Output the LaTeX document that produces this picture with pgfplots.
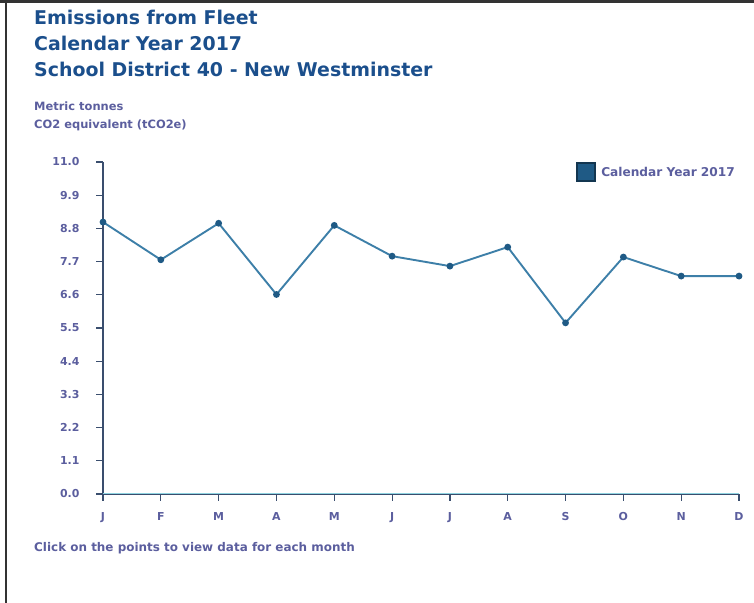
\documentclass[border=0pt]{standalone}
\usepackage{pgfplots}
\pgfplotsset{compat=1.18}
\usepackage{fontspec}
\setmainfont{DejaVu Sans}
\definecolor{titleblue}{HTML}{1B4F8C}
\definecolor{labpurple}{HTML}{5B5E9E}
\definecolor{linecol}{HTML}{3D7FA8}
\definecolor{markcol}{HTML}{1F5A85}
\definecolor{axcol}{HTML}{3A4E6E}
\definecolor{zerocol}{HTML}{8FD3E0}
\begin{document}
\begin{tikzpicture}[x=1bp,y=1bp]
\path[use as bounding box] (0,0) rectangle (754,603);
\draw[line width=3bp, black!80] (0,601.5) -- (754,601.5);
\draw[line width=2.5bp, black!80] (6,0) -- (6,603);
\node[anchor=base west, font=\bfseries\fontsize{19}{22}\selectfont, text=titleblue, inner sep=0] at (34,578) {Emissions from Fleet};
\node[anchor=base west, font=\bfseries\fontsize{19}{22}\selectfont, text=titleblue, inner sep=0] at (34,552) {Calendar Year 2017};
\node[anchor=base west, font=\bfseries\fontsize{19}{22}\selectfont, text=titleblue, inner sep=0] at (34,526) {School District 40 - New Westminster};
\node[anchor=base west, font=\bfseries\fontsize{11.5}{13}\selectfont, text=labpurple, inner sep=0] at (34,492) {Metric tonnes};
\node[anchor=base west, font=\bfseries\fontsize{11.5}{13}\selectfont, text=labpurple, inner sep=0] at (34,474) {CO2 equivalent (tCO2e)};
\node[anchor=base west, font=\bfseries\fontsize{12}{14}\selectfont, text=labpurple, inner sep=0] at (34,51) {Click on the points to view data for each month};
\begin{axis}[
  at={(103bp,109bp)}, anchor=south west,
  scale only axis, width=636bp, height=332bp,
  xmin=0, xmax=11, ymin=0, ymax=11,
  clip=false,
  axis x line*=bottom, axis y line*=left,
  axis line style={axcol, line width=1.2bp},
  tick style={axcol, line width=1.2bp},
  tick align=outside,
  major tick length=7bp,
  xtick={0,...,11},
  xticklabels={J,F,M,A,M,J,J,A,S,O,N,D},
  ytick={0,1.1,2.2,3.3,4.4,5.5,6.6,7.7,8.8,9.9,11},
  /pgf/number format/fixed,
  /pgf/number format/fixed zerofill,
  /pgf/number format/precision=1,
  /pgf/number format/assume math mode=true,
  ticklabel style={font=\bfseries\fontsize{11}{13}\selectfont, text=labpurple},
  xticklabel style={yshift=-8bp},
  yticklabel style={xshift=-13bp},
  legend style={at={(0.744,1.0)}, anchor=north west, draw=none, fill=none,
    font=\bfseries\fontsize{12.2}{14}\selectfont, text=labpurple, inner sep=0pt},
  legend cell align=left,
]
\addplot[zerocol, line width=0.8bp, forget plot] coordinates {
(0,0.03) (1,0.03) (2,0.03) (3,0.03) (4,0.03) (5,0.03) (6,0.03) (7,0.03) (8,0.03) (9,0.03) (10,0.03) (11,0.03)};
\addplot[linecol, line width=1.9bp, mark=*, mark size=2.4bp,
  mark options={fill=markcol, draw=markcol},
  legend image code/.code={\fill[markcol, draw=markcol!60!black] (0bp,-9bp) rectangle (18bp,9bp);}]
coordinates {
(0,9.01) (1,7.76) (2,8.97) (3,6.61) (4,8.90) (5,7.88) (6,7.55) (7,8.18) (8,5.67) (9,7.85) (10,7.22) (11,7.22)};
\addlegendentry{\hspace{3bp}Calendar Year 2017}
\end{axis}
\end{tikzpicture}
\end{document}
